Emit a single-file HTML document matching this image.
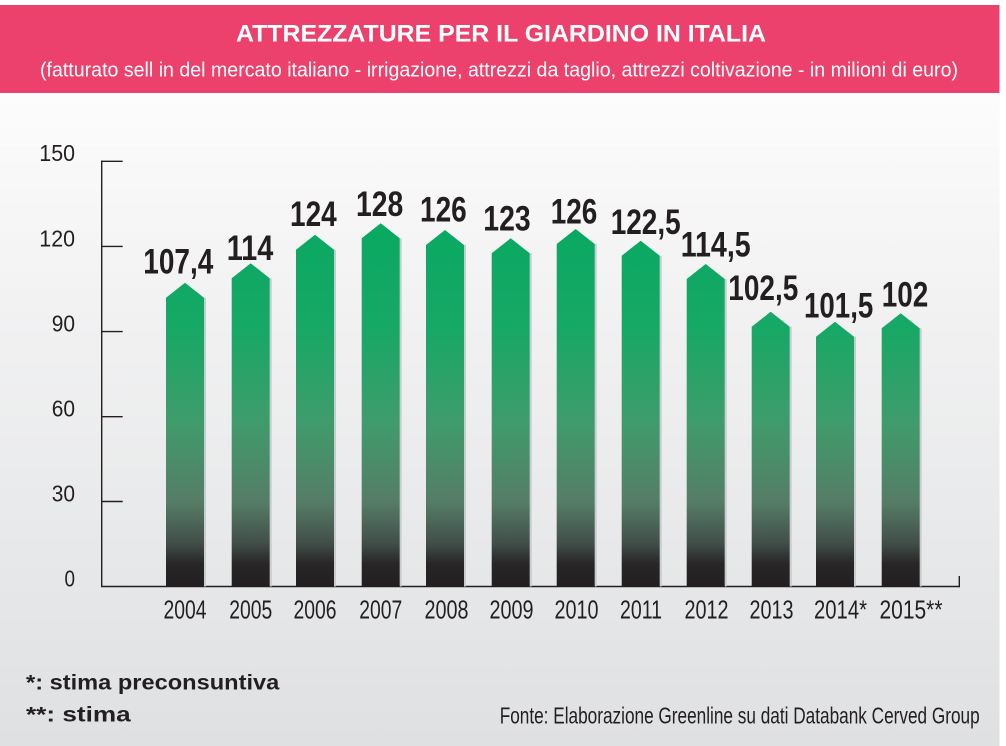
<!DOCTYPE html>
<html>
<head>
<meta charset="utf-8">
<style>
html,body{margin:0;padding:0;background:#ffffff;}
svg{display:block;}
text{font-family:"Liberation Sans",Arial,sans-serif;}
</style>
</head>
<body>
<svg width="1006" height="746" viewBox="0 0 1006 746" xmlns="http://www.w3.org/2000/svg">
  <defs>
    <linearGradient id="bg" x1="0" y1="93" x2="0" y2="746" gradientUnits="userSpaceOnUse">
      <stop offset="0" stop-color="#fcfcfc"/>
      <stop offset="0.35" stop-color="#f1f1f2"/>
      <stop offset="0.75" stop-color="#e6e7e8"/>
      <stop offset="1" stop-color="#dfe0e2"/>
    </linearGradient>
    <linearGradient id="bar" x1="0" y1="220" x2="0" y2="586" gradientUnits="userSpaceOnUse">
      <stop offset="0" stop-color="#08a962"/>
      <stop offset="0.3" stop-color="#17a866"/>
      <stop offset="0.55" stop-color="#3f9c6c"/>
      <stop offset="0.77" stop-color="#557d66"/>
      <stop offset="0.88" stop-color="#42504a"/>
      <stop offset="0.94" stop-color="#282627"/>
      <stop offset="1" stop-color="#231f20"/>
    </linearGradient>
  </defs>

  <!-- background -->
  <rect x="0" y="0" width="1006" height="746" fill="#ffffff"/>
  <rect x="0" y="93" width="999.5" height="653" fill="url(#bg)"/>

  <!-- header -->
  <rect x="0" y="5" width="999.5" height="88" fill="#ec416c"/>
  <text x="236" y="41.7" font-size="24" font-weight="bold" fill="#ffffff" textLength="530" lengthAdjust="spacingAndGlyphs">ATTREZZATURE PER IL GIARDINO IN ITALIA</text>
  <text x="40" y="76.5" font-size="20" fill="#ffffff" textLength="918" lengthAdjust="spacingAndGlyphs">(fatturato sell in del mercato italiano - irrigazione, attrezzi da taglio, attrezzi coltivazione - in milioni di euro)</text>

  <!-- axes -->
  <g stroke="#231f20" stroke-width="1.4" fill="none">
    <line x1="101.7" y1="160.6" x2="101.7" y2="586.5"/>
    <line x1="101" y1="161.3" x2="122.7" y2="161.3"/>
    <line x1="101" y1="246.4" x2="122.7" y2="246.4"/>
    <line x1="101" y1="331.6" x2="122.7" y2="331.6"/>
    <line x1="101" y1="416.7" x2="122.7" y2="416.7"/>
    <line x1="101" y1="501.5" x2="122.7" y2="501.5"/>
    <line x1="101" y1="586.5" x2="959.5" y2="586.5"/>
    <line x1="959.3" y1="576" x2="959.3" y2="587.2"/>
  </g>

  <!-- y labels -->
  <g font-size="23" fill="#231f20">
    <text x="39.3" y="161" textLength="35.7" lengthAdjust="spacingAndGlyphs">150</text>
    <text x="39.3" y="246.4" textLength="35.7" lengthAdjust="spacingAndGlyphs">120</text>
    <text x="51.7" y="331.5" textLength="23.3" lengthAdjust="spacingAndGlyphs">90</text>
    <text x="51.7" y="416.6" textLength="23.3" lengthAdjust="spacingAndGlyphs">60</text>
    <text x="51.7" y="501.4" textLength="23.3" lengthAdjust="spacingAndGlyphs">30</text>
    <text x="64.5" y="586.4" textLength="10.5" lengthAdjust="spacingAndGlyphs">0</text>
  </g>

  <!-- bars -->
  <g>
    <!-- shadows -->
    <g fill="#c9cbcd">
      <rect x="204" y="297.7" width="2" height="288.8"/>
      <rect x="269.7" y="278.3" width="2" height="308.2"/>
      <rect x="334" y="249.7" width="2" height="336.8"/>
      <rect x="399.7" y="238.3" width="2" height="348.2"/>
      <rect x="464" y="245" width="2" height="341.5"/>
      <rect x="529.7" y="253.3" width="2" height="333.2"/>
      <rect x="594.7" y="244" width="2" height="342.5"/>
      <rect x="659.7" y="255.7" width="2" height="330.8"/>
      <rect x="724.7" y="279" width="2" height="307.5"/>
      <rect x="789.7" y="326.7" width="2" height="259.8"/>
      <rect x="854" y="336.7" width="2" height="249.8"/>
      <rect x="919.7" y="328.3" width="2" height="258.2"/>
    </g>
    <g fill="url(#bar)">
      <polygon points="166,586.5 166,297.7 185,282.7 204,297.7 204,586.5"/>
      <polygon points="231.7,586.5 231.7,278.3 250.7,263.3 269.7,278.3 269.7,586.5"/>
      <polygon points="296,586.5 296,249.7 315,234.7 334,249.7 334,586.5"/>
      <polygon points="361.7,586.5 361.7,238.3 380.7,223.3 399.7,238.3 399.7,586.5"/>
      <polygon points="426,586.5 426,245 445,230 464,245 464,586.5"/>
      <polygon points="491.7,586.5 491.7,253.3 510.7,238.3 529.7,253.3 529.7,586.5"/>
      <polygon points="556.7,586.5 556.7,244 575.7,229 594.7,244 594.7,586.5"/>
      <polygon points="621.7,586.5 621.7,255.7 640.7,240.7 659.7,255.7 659.7,586.5"/>
      <polygon points="686.7,586.5 686.7,279 705.7,264 724.7,279 724.7,586.5"/>
      <polygon points="751.7,586.5 751.7,326.7 770.7,311.7 789.7,326.7 789.7,586.5"/>
      <polygon points="816,586.5 816,336.7 835,321.7 854,336.7 854,586.5"/>
      <polygon points="881.7,586.5 881.7,328.3 900.7,313.3 919.7,328.3 919.7,586.5"/>
    </g>
  </g>

  <!-- value labels -->
  <g font-size="35" font-weight="bold" fill="#231f20">
    <text x="143.3" y="273.3" textLength="70" lengthAdjust="spacingAndGlyphs">107,4</text>
    <text x="226.7" y="260" textLength="46.6" lengthAdjust="spacingAndGlyphs">114</text>
    <text x="290" y="226" textLength="46.7" lengthAdjust="spacingAndGlyphs">124</text>
    <text x="356" y="216" textLength="47.3" lengthAdjust="spacingAndGlyphs">128</text>
    <text x="420" y="221.7" textLength="46.7" lengthAdjust="spacingAndGlyphs">126</text>
    <text x="483.3" y="230.7" textLength="47.4" lengthAdjust="spacingAndGlyphs">123</text>
    <text x="550.7" y="223.3" textLength="46.6" lengthAdjust="spacingAndGlyphs">126</text>
    <text x="610.7" y="234" textLength="70" lengthAdjust="spacingAndGlyphs">122,5</text>
    <text x="680.7" y="256.7" textLength="70" lengthAdjust="spacingAndGlyphs">114,5</text>
    <text x="728.3" y="300" textLength="70" lengthAdjust="spacingAndGlyphs">102,5</text>
    <text x="804" y="317.5" textLength="69.3" lengthAdjust="spacingAndGlyphs">101,5</text>
    <text x="881.7" y="306.7" textLength="46.6" lengthAdjust="spacingAndGlyphs">102</text>
  </g>

  <!-- year labels -->
  <g font-size="26" fill="#231f20">
    <text x="163.5" y="618.3" textLength="43" lengthAdjust="spacingAndGlyphs">2004</text>
    <text x="229.2" y="618.3" textLength="43" lengthAdjust="spacingAndGlyphs">2005</text>
    <text x="293.5" y="618.3" textLength="43" lengthAdjust="spacingAndGlyphs">2006</text>
    <text x="359.2" y="618.3" textLength="43" lengthAdjust="spacingAndGlyphs">2007</text>
    <text x="424.5" y="618.3" textLength="44" lengthAdjust="spacingAndGlyphs">2008</text>
    <text x="489.5" y="618.3" textLength="44" lengthAdjust="spacingAndGlyphs">2009</text>
    <text x="554.5" y="618.3" textLength="44" lengthAdjust="spacingAndGlyphs">2010</text>
    <text x="620" y="618.3" textLength="42" lengthAdjust="spacingAndGlyphs">2011</text>
    <text x="684.5" y="618.3" textLength="44" lengthAdjust="spacingAndGlyphs">2012</text>
    <text x="749.5" y="618.3" textLength="44" lengthAdjust="spacingAndGlyphs">2013</text>
    <text x="814" y="618.3" textLength="53" lengthAdjust="spacingAndGlyphs">2014*</text>
    <text x="879.5" y="618.3" textLength="63" lengthAdjust="spacingAndGlyphs">2015**</text>
  </g>

  <!-- footer -->
  <text x="26" y="689.3" font-size="21" font-weight="bold" fill="#231f20" textLength="253.3" lengthAdjust="spacingAndGlyphs">*: stima preconsuntiva</text>
  <text x="26" y="721.7" font-size="21" font-weight="bold" fill="#231f20" textLength="104.7" lengthAdjust="spacingAndGlyphs">**: stima</text>
  <text x="499.7" y="723.3" font-size="23" fill="#231f20" textLength="480" lengthAdjust="spacingAndGlyphs">Fonte: Elaborazione Greenline su dati Databank Cerved Group</text>
</svg>
</body>
</html>
